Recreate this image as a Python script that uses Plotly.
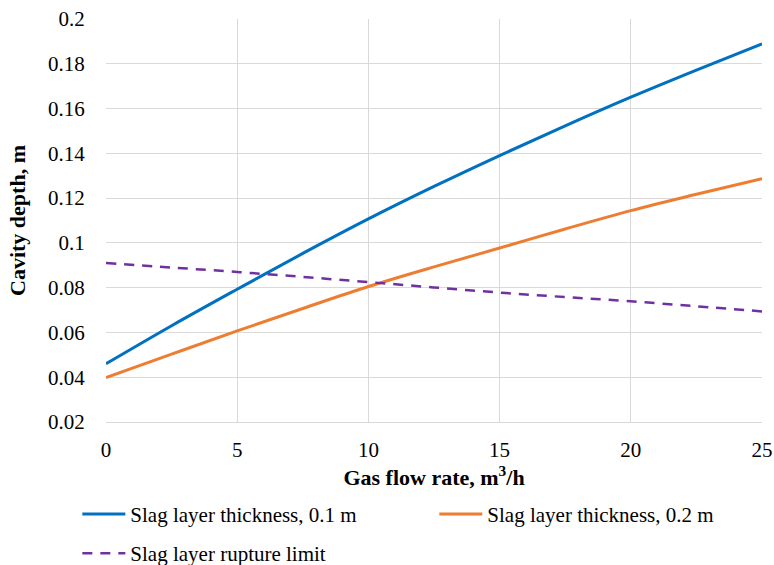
import plotly.graph_objects as go

x = [0, 2.5, 5, 7.5, 10, 12.5, 15, 17.5, 20, 22.5, 25]
blue = [0.0460, 0.0630, 0.0793, 0.0953, 0.1107, 0.1252, 0.1390, 0.1523, 0.1651, 0.1772, 0.1889]
orange = [0.0398, 0.0503, 0.0607, 0.0707, 0.0805, 0.0893, 0.0977, 0.1062, 0.1144, 0.1217, 0.1287]
purple = [0.0910, 0.0890, 0.0870, 0.0848, 0.0825, 0.0801, 0.0778, 0.0758, 0.0739, 0.0717, 0.0694]

names = ["Slag layer thickness, 0.1 m", "Slag layer thickness, 0.2 m", "Slag layer rupture limit"]

font = "Liberation Serif"
fig = go.Figure()
fig.add_trace(go.Scatter(x=x, y=blue, mode="lines", name=names[0], legend="legend",
                         legendgroup="a",
                         line=dict(color="#0070C0", width=3, shape="spline")))
fig.add_trace(go.Scatter(x=x, y=orange, mode="lines", name=names[1], legend="legend2",
                         legendgroup="b",
                         line=dict(color="#ED7D31", width=3, shape="spline")))
fig.add_trace(go.Scatter(x=x, y=purple, mode="lines", name=names[2], legend="legend",
                         legendgroup="c",
                         line=dict(color="#7030A0", width=2.5, dash="10px,8px", shape="spline")))

leg_common = dict(orientation="v", yanchor="top", xanchor="left", bgcolor="rgba(0,0,0,0)",
                  font=dict(family=font, size=21, color="black"),
                  traceorder="grouped", tracegroupgap=9, itemwidth=43)

fig.update_layout(
    width=774, height=565,
    margin=dict(l=106, r=12, t=19, b=143, autoexpand=False),
    paper_bgcolor="white", plot_bgcolor="white",
    font=dict(family=font, size=21, color="black"),
    showlegend=True,
    legend=dict(x=-0.0437, y=-0.178, **leg_common),
    legend2=dict(x=0.5005, y=-0.178, **leg_common),
    xaxis=dict(range=[0, 25], dtick=5, showgrid=True, gridcolor="#D9D9D9", gridwidth=1,
               zeroline=False, showline=True, linecolor="#D9D9D9",
               ticks="outside", ticklen=9, tickcolor="rgba(0,0,0,0)", automargin=False,
               ticklabeloverflow="allow",
               title=dict(text="<b>Gas flow rate, m<sup>3</sup>/h</b>",
                          font=dict(family=font, size=22), standoff=5),
               tickfont=dict(family=font, size=21)),
    yaxis=dict(range=[0.02, 0.2000001], tick0=0.02, dtick=0.02, showgrid=True,
               gridcolor="#D9D9D9", gridwidth=1,
               zeroline=False, showline=False, tickformat="~g",
               ticks="outside", ticklen=16, tickcolor="rgba(0,0,0,0)", automargin=False,
               ticklabeloverflow="allow",
               title=dict(text="<b>Cavity depth, m</b>",
                          font=dict(family=font, size=22), standoff=16),
               tickfont=dict(family=font, size=21)),
)
fig.write_html("out.html", config={"displayModeBar": False},
               post_script="document.body.style.margin='0';document.body.style.overflow='hidden';")
